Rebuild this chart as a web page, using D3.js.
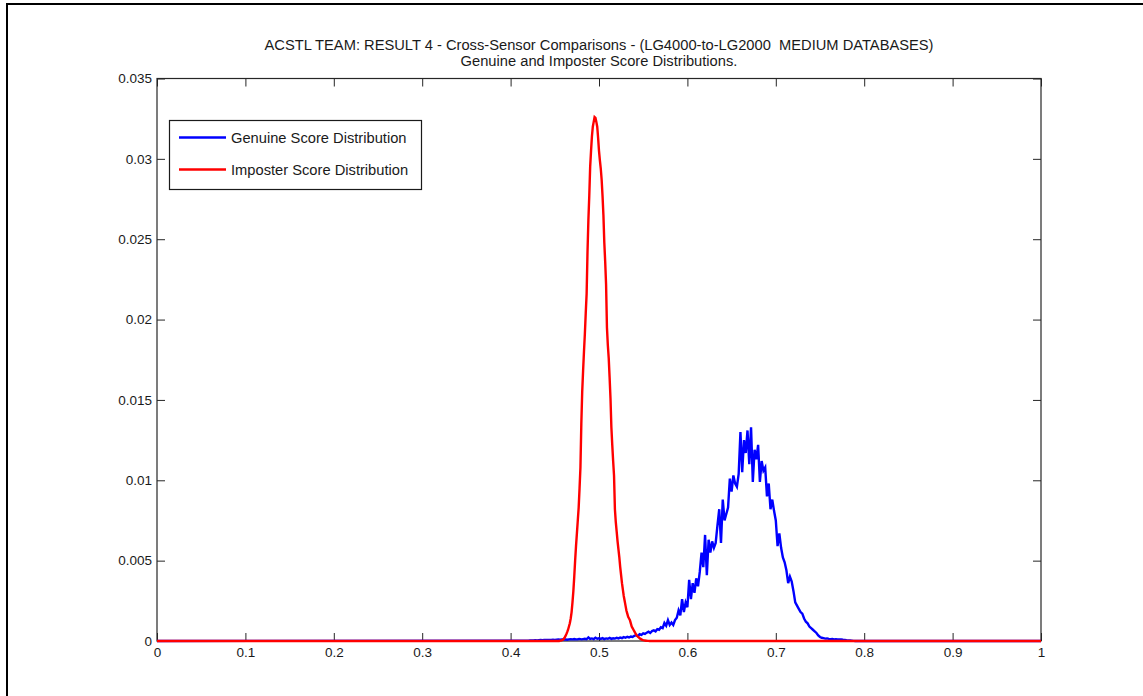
<!DOCTYPE html>
<html>
<head>
<meta charset="utf-8">
<script src="https://cdn.jsdelivr.net/npm/d3@7"></script>
<style>
  html, body { margin: 0; padding: 0; background: #fff; }
  svg { display: block; }
  text { font-family: "Liberation Sans", Arial, Helvetica, sans-serif; fill: #1a1a1a; white-space: pre; }
</style>
</head>
<body>
<svg id="chart" width="1143" height="696"></svg>
<script>
// Title lines
const titleLines = [
  "ACSTL TEAM: RESULT 4 - Cross-Sensor Comparisons - (LG4000-to-LG2000  MEDIUM DATABASES)",
  "Genuine and Imposter Score Distributions."
];

// Axis ticks
const xTickValues = [0, 0.1, 0.2, 0.3, 0.4, 0.5, 0.6, 0.7, 0.8, 0.9, 1];
const xTickLabels = ["0", "0.1", "0.2", "0.3", "0.4", "0.5", "0.6", "0.7", "0.8", "0.9", "1"];
const yTickValues = [0, 0.005, 0.01, 0.015, 0.02, 0.025, 0.03, 0.035];
const yTickLabels = ["0", "0.005", "0.01", "0.015", "0.02", "0.025", "0.03", "0.035"];

// Series names
const seriesNames = ["Genuine Score Distribution", "Imposter Score Distribution"];

// Genuine score histogram: bins of 0.002 starting at 0.420
const genuineStart = 0.420;
const genuineStep = 0.002;
const genuineValues = [
  0.00002, 0.00003, 0.00004, 0.00003, 0.00005, 0.00004, 0.00005, 0.00006, 0.00005, 0.00006, 0.00007,
  0.00006, 0.00007, 0.00006, 0.00008, 0.00007, 0.00008, 0.00009, 0.00008, 0.0001, 0.00009,
  0.0001, 0.00008, 0.0001, 0.00011, 0.0001, 0.00012, 0.0001, 0.00011, 0.00013, 0.0001,
  0.00012, 0.00014, 0.00011, 0.00022, 0.00013, 0.00016, 0.00012, 0.0002, 0.00014, 0.00017,
  0.00013, 0.00018, 0.00012, 0.00016, 0.00014, 0.00019, 0.00013, 0.00017, 0.00015, 0.0002,
  0.00016, 0.00021, 0.00018, 0.00024, 0.0002, 0.00026, 0.00022, 0.00028, 0.00025, 0.00032,
  0.00036, 0.0003, 0.00042, 0.00038, 0.00048, 0.00044, 0.00052, 0.00058, 0.0005, 0.00062,
  0.00066, 0.0006, 0.00074, 0.0007, 0.00085, 0.0008, 0.00112, 0.00095, 0.0013, 0.001,
  0.00115, 0.001, 0.0013, 0.00145, 0.0019, 0.0016, 0.0026, 0.0018, 0.0024, 0.0021,
  0.0038, 0.0026, 0.0036, 0.003, 0.0039, 0.0034, 0.0043, 0.0055, 0.0046, 0.0066,
  0.0041, 0.0063, 0.0055, 0.0062, 0.0058, 0.0061, 0.0072, 0.0082, 0.0061, 0.0088,
  0.0075, 0.0079, 0.0083, 0.0101, 0.0093, 0.0103, 0.0098, 0.0096, 0.0104, 0.013,
  0.0105, 0.0125, 0.0117, 0.0131, 0.011, 0.0133, 0.0099, 0.0119, 0.0113, 0.0122,
  0.0099, 0.0112, 0.0106, 0.0108, 0.009, 0.0098, 0.0082, 0.0088, 0.0081, 0.0075,
  0.0059, 0.0067, 0.0058, 0.0052, 0.0049, 0.0044, 0.0036, 0.004, 0.0037, 0.0031,
  0.0024, 0.0022, 0.002, 0.0018, 0.0017, 0.0014, 0.0012, 0.0011, 0.0009, 0.0008,
  0.0007, 0.0006, 0.0005, 0.00035, 0.00025, 0.0002, 0.00018, 0.00015, 0.00016, 0.00013,
  0.00012, 0.00013, 0.0001, 0.00011, 0.0001, 0.00009, 0.0001, 0.00008, 0.00007, 0.00005,
  0.00004, 0.00003, 0.00002, 0.00001, 0
];

// Imposter score histogram: bins of 0.001 starting at 0.455
const imposterStart = 0.455;
const imposterStep = 0.001;
const imposterValues = [
  0, 0.00002, 0.00003, 0.00005, 0.00008, 0.00012, 0.0002, 0.0003, 0.00042, 0.00055,
  0.0007, 0.0009, 0.0011, 0.0014, 0.0018, 0.0024, 0.0031, 0.004, 0.005, 0.0059,
  0.0067, 0.0075, 0.0083, 0.0095, 0.0108, 0.0135, 0.0155, 0.0168, 0.018, 0.0191,
  0.0204, 0.0216, 0.0242, 0.0262, 0.0277, 0.0295, 0.0305, 0.0314, 0.032, 0.0323,
  0.0326, 0.03255, 0.0323, 0.032, 0.0313, 0.0305, 0.0299, 0.0294, 0.0287, 0.0277,
  0.0265, 0.0248, 0.0236, 0.0222, 0.0195, 0.0184, 0.0176, 0.0164, 0.0151, 0.0133,
  0.0122, 0.0112, 0.0103, 0.0082, 0.0074, 0.0068, 0.0062, 0.0057, 0.0052, 0.0046,
  0.0041, 0.0036, 0.0032, 0.0028, 0.0025, 0.0022, 0.0019, 0.0017, 0.0015, 0.0014,
  0.0013, 0.0011, 0.0009, 0.0008, 0.0007, 0.0006, 0.0005, 0.0004, 0.00033, 0.00027,
  0.00022, 0.00017, 0.00013, 0.0001, 0.00007, 0.00005, 0.00004, 0.00003, 0.00002, 0.00002,
  0.00001, 0.00001, 0, 0
];

const seriesColors = ["#0000ff", "#ff0000"];

// Build [score, frequency] point lists, zero-padded to the full 0..1 range
function toPoints(start, step, values) {
  const pts = values.map((v, i) => [start + i * step, v]);
  return [[0, 0], ...pts, [1, 0]];
}
const genuinePoints = toPoints(genuineStart, genuineStep, genuineValues);
const imposterPoints = toPoints(imposterStart, imposterStep, imposterValues);

const svg = d3.select("#chart");
const W = 1143, H = 696;
const plot = { left: 157, right: 1041, top: 78.5, bottom: 641 };
const labelFont = 13.5;
const textFont = 14.7;

// Figure frame
svg.append("path")
  .attr("d", `M7,${H + 5} V4 H${W + 5}`)
  .attr("fill", "none")
  .attr("stroke", "#000")
  .attr("stroke-width", 2);

const x = d3.scaleLinear().domain([0, 1]).range([plot.left, plot.right]);
const y = d3.scaleLinear().domain([0, 0.035]).range([plot.bottom, plot.top]);

// Titles
svg.selectAll("text.title")
  .data(titleLines)
  .join("text")
  .attr("class", "title")
  .attr("x", (plot.left + plot.right) / 2)
  .attr("y", (d, i) => 50 + i * 16)
  .attr("text-anchor", "middle")
  .attr("font-size", textFont)
  .text(d => d);

// Axes (inward ticks on all four sides)
const tickLen = 8;
const fmtX = d => xTickLabels[xTickValues.indexOf(d)];
const fmtY = d => yTickLabels[yTickValues.indexOf(d)];

function styleAxis(g) {
  g.select(".domain").remove();
  g.selectAll(".tick line").attr("stroke", "#262626");
  g.selectAll(".tick text")
    .attr("font-family", "\"Liberation Sans\", Arial, sans-serif")
    .attr("font-size", labelFont)
    .attr("fill", "#1a1a1a");
}

svg.append("g")
  .attr("transform", `translate(0,${plot.bottom})`)
  .call(d3.axisBottom(x).tickValues(xTickValues).tickFormat(fmtX)
    .tickSizeInner(-tickLen).tickSizeOuter(0).tickPadding(6))
  .call(styleAxis);

svg.append("g")
  .attr("transform", `translate(0,${plot.top})`)
  .call(d3.axisTop(x).tickValues(xTickValues).tickFormat("")
    .tickSizeInner(-tickLen).tickSizeOuter(0))
  .call(styleAxis);

svg.append("g")
  .attr("transform", `translate(${plot.left},0)`)
  .call(d3.axisLeft(y).tickValues(yTickValues).tickFormat(fmtY)
    .tickSizeInner(-tickLen).tickSizeOuter(0).tickPadding(5))
  .call(styleAxis);

svg.append("g")
  .attr("transform", `translate(${plot.right},0)`)
  .call(d3.axisRight(y).tickValues(yTickValues).tickFormat("")
    .tickSizeInner(-tickLen).tickSizeOuter(0))
  .call(styleAxis);

// Axes box
svg.append("rect")
  .attr("x", plot.left)
  .attr("y", plot.top)
  .attr("width", plot.right - plot.left)
  .attr("height", plot.bottom - plot.top)
  .attr("fill", "none")
  .attr("stroke", "#262626")
  .attr("stroke-width", 1.2);

// Distribution lines
const line = d3.line().x(d => x(d[0])).y(d => y(d[1]));
[genuinePoints, imposterPoints].forEach((pts, i) => {
  svg.append("path")
    .datum(pts)
    .attr("d", line)
    .attr("fill", "none")
    .attr("stroke", seriesColors[i])
    .attr("stroke-width", 2.4)
    .attr("stroke-linejoin", "miter");
});

// Legend
const legend = svg.append("g").attr("transform", "translate(169,120)");
legend.append("rect")
  .attr("x", 0.5).attr("y", 0.5)
  .attr("width", 252).attr("height", 69)
  .attr("fill", "#fff")
  .attr("stroke", "#1a1a1a")
  .attr("stroke-width", 1.2);
seriesNames.forEach((name, i) => {
  const cy = 17.5 + i * 32;
  legend.append("line")
    .attr("x1", 10).attr("x2", 57)
    .attr("y1", cy).attr("y2", cy)
    .attr("stroke", seriesColors[i])
    .attr("stroke-width", 2.4);
  legend.append("text")
    .attr("x", 62)
    .attr("y", cy)
    .attr("dy", "0.35em")
    .attr("font-size", textFont)
    .text(name);
});
</script>
</body>
</html>
